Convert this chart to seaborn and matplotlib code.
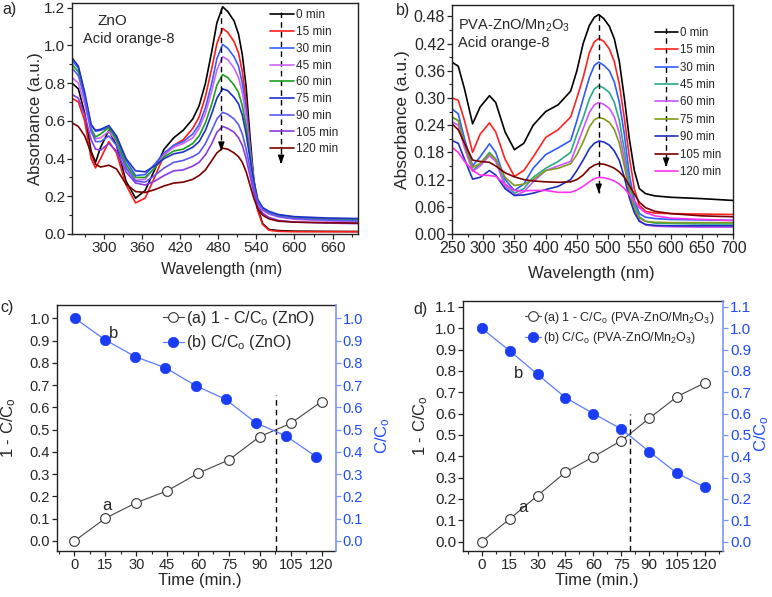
import seaborn as sns
import matplotlib.pyplot as plt
from matplotlib.ticker import MultipleLocator, FormatStrFormatter

sns.set_style('ticks')
plt.rcParams['font.family'] = ['Liberation Sans', 'DejaVu Sans']
plt.rcParams['mathtext.fontset'] = 'custom'
plt.rcParams['mathtext.rm'] = 'Liberation Sans'
plt.rcParams['mathtext.it'] = 'Liberation Sans:italic'
plt.rcParams['mathtext.default'] = 'regular'
plt.rcParams['axes.linewidth'] = 1.0
plt.rcParams['axes.edgecolor'] = '#222222'

# ---------------- data ----------------
labels_t = ['0 min', '15 min', '30 min', '45 min', '60 min', '75 min', '90 min', '105 min', '120 min']

# a) ZnO, Acid orange-8
wl_a = [250, 260, 270, 280, 287, 295, 308, 320, 335, 350, 365, 380, 395, 410, 425, 440, 450, 460, 470,
        478, 487, 495, 505, 512, 518, 524, 530, 536, 542, 550, 560, 575, 600, 650, 700]
zno_0 = [0.80, 0.77, 0.64, 0.44, 0.38, 0.46, 0.55, 0.47, 0.28, 0.19, 0.23, 0.34, 0.45, 0.51, 0.55, 0.61, 0.68, 0.80, 0.97,
         1.12, 1.205, 1.18, 1.13, 1.06, 0.95, 0.78, 0.52, 0.29, 0.14, 0.055, 0.024, 0.018, 0.015, 0.014, 0.013]
zno_15 = [0.72, 0.70, 0.60, 0.40, 0.35, 0.40, 0.49, 0.43, 0.26, 0.165, 0.19, 0.30, 0.42, 0.47, 0.50, 0.56, 0.62, 0.73, 0.88,
          1.01, 1.09, 1.07, 1.02, 0.96, 0.86, 0.70, 0.47, 0.26, 0.125, 0.05, 0.02, 0.014, 0.012, 0.012, 0.012]
zno_30 = [0.92, 0.88, 0.74, 0.58, 0.545, 0.55, 0.565, 0.51, 0.39, 0.31, 0.315, 0.37, 0.43, 0.47, 0.49, 0.53, 0.58, 0.67, 0.80,
          0.93, 1.005, 0.985, 0.94, 0.89, 0.80, 0.66, 0.46, 0.29, 0.18, 0.135, 0.115, 0.10, 0.088, 0.078, 0.072]
zno_45 = [0.83, 0.80, 0.69, 0.54, 0.505, 0.51, 0.545, 0.49, 0.36, 0.285, 0.29, 0.35, 0.42, 0.46, 0.48, 0.51, 0.56, 0.64, 0.76,
          0.87, 0.94, 0.925, 0.88, 0.83, 0.75, 0.62, 0.44, 0.28, 0.17, 0.125, 0.105, 0.09, 0.078, 0.07, 0.065]
zno_60 = [0.90, 0.86, 0.73, 0.56, 0.515, 0.53, 0.565, 0.50, 0.37, 0.30, 0.30, 0.35, 0.41, 0.44, 0.45, 0.48, 0.52, 0.59, 0.69,
          0.79, 0.845, 0.83, 0.79, 0.75, 0.68, 0.57, 0.42, 0.28, 0.18, 0.135, 0.115, 0.098, 0.087, 0.08, 0.076]
zno_75 = [0.935, 0.89, 0.75, 0.58, 0.55, 0.555, 0.575, 0.52, 0.40, 0.335, 0.33, 0.36, 0.40, 0.425, 0.435, 0.46, 0.49, 0.55, 0.64,
          0.72, 0.77, 0.76, 0.725, 0.69, 0.63, 0.53, 0.40, 0.28, 0.185, 0.14, 0.12, 0.103, 0.092, 0.085, 0.082]
zno_90 = [0.88, 0.84, 0.72, 0.55, 0.49, 0.49, 0.52, 0.47, 0.35, 0.28, 0.275, 0.31, 0.35, 0.38, 0.39, 0.41, 0.43, 0.48, 0.55,
          0.61, 0.645, 0.635, 0.61, 0.58, 0.53, 0.45, 0.35, 0.25, 0.17, 0.13, 0.11, 0.093, 0.082, 0.074, 0.07]
zno_105 = [0.74, 0.72, 0.63, 0.50, 0.45, 0.445, 0.48, 0.44, 0.33, 0.27, 0.26, 0.28, 0.31, 0.335, 0.34, 0.36, 0.38, 0.42, 0.48,
           0.54, 0.57, 0.56, 0.54, 0.51, 0.47, 0.40, 0.31, 0.22, 0.15, 0.11, 0.088, 0.072, 0.063, 0.058, 0.055]
zno_120 = [0.59, 0.57, 0.52, 0.43, 0.37, 0.355, 0.365, 0.345, 0.265, 0.225, 0.22, 0.235, 0.255, 0.27, 0.275, 0.29, 0.31, 0.34, 0.39,
           0.43, 0.455, 0.45, 0.43, 0.41, 0.38, 0.33, 0.26, 0.19, 0.135, 0.10, 0.08, 0.068, 0.063, 0.06, 0.058]
colors_a = ['#000000', '#ff1a1a', '#3a5cff', '#cc66ff', '#1e9e1e', '#1f2fcc', '#5a5af0', '#8a3ae0', '#7a0000']

# b) PVA-ZnO/Mn2O3, Acid orange-8
wl_b = [250, 260, 270, 283, 295, 310, 320, 335, 350, 365, 380, 400, 420, 440, 450, 460, 470, 478, 485,
        493, 502, 510, 518, 526, 534, 542, 550, 560, 575, 600, 650, 700]
pva_0 = [0.379, 0.37, 0.32, 0.243, 0.28, 0.305, 0.29, 0.225, 0.186, 0.20, 0.24, 0.27, 0.285, 0.315, 0.36, 0.42, 0.46, 0.478, 0.484,
         0.475, 0.458, 0.43, 0.38, 0.30, 0.21, 0.14, 0.10, 0.089, 0.084, 0.081, 0.078, 0.074]
pva_15 = [0.30, 0.295, 0.25, 0.18, 0.22, 0.245, 0.225, 0.165, 0.127, 0.14, 0.17, 0.213, 0.23, 0.258, 0.30, 0.345, 0.40, 0.424, 0.431,
          0.425, 0.408, 0.38, 0.33, 0.255, 0.17, 0.10, 0.063, 0.05, 0.046, 0.045, 0.044, 0.043]
pva_30 = [0.276, 0.265, 0.21, 0.15, 0.17, 0.199, 0.18, 0.12, 0.096, 0.11, 0.145, 0.175, 0.19, 0.206, 0.25, 0.298, 0.345, 0.372, 0.379,
          0.372, 0.36, 0.335, 0.29, 0.22, 0.13, 0.075, 0.045, 0.037, 0.034, 0.032, 0.031, 0.03]
pva_45 = [0.258, 0.25, 0.195, 0.14, 0.155, 0.18, 0.165, 0.11, 0.09, 0.10, 0.125, 0.145, 0.16, 0.18, 0.22, 0.256, 0.298, 0.32, 0.327,
          0.322, 0.312, 0.29, 0.25, 0.185, 0.11, 0.065, 0.038, 0.028, 0.024, 0.023, 0.022, 0.022]
pva_60 = [0.247, 0.24, 0.19, 0.138, 0.15, 0.173, 0.16, 0.105, 0.085, 0.093, 0.115, 0.14, 0.15, 0.16, 0.195, 0.232, 0.268, 0.285, 0.29,
          0.286, 0.277, 0.258, 0.222, 0.165, 0.095, 0.055, 0.03, 0.02, 0.017, 0.016, 0.015, 0.015]
pva_75 = [0.258, 0.25, 0.20, 0.147, 0.155, 0.177, 0.165, 0.125, 0.107, 0.11, 0.12, 0.14, 0.145, 0.155, 0.175, 0.203, 0.236, 0.252, 0.257,
          0.254, 0.246, 0.23, 0.20, 0.15, 0.095, 0.055, 0.035, 0.028, 0.026, 0.025, 0.025, 0.025]
pva_90 = [0.206, 0.20, 0.165, 0.121, 0.125, 0.14, 0.13, 0.10, 0.085, 0.086, 0.09, 0.098, 0.105, 0.12, 0.14, 0.163, 0.188, 0.20, 0.205,
          0.203, 0.196, 0.183, 0.162, 0.125, 0.08, 0.047, 0.028, 0.021, 0.019, 0.018, 0.018, 0.018]
pva_105 = [0.243, 0.23, 0.20, 0.163, 0.16, 0.158, 0.15, 0.135, 0.126, 0.12, 0.117, 0.115, 0.114, 0.115, 0.12, 0.13, 0.145, 0.152, 0.155,
           0.154, 0.15, 0.145, 0.137, 0.125, 0.107, 0.088, 0.07, 0.058, 0.05, 0.045, 0.04, 0.038]
pva_120 = [0.191, 0.18, 0.16, 0.14, 0.13, 0.129, 0.127, 0.11, 0.096, 0.095, 0.096, 0.096, 0.092, 0.092, 0.097, 0.105, 0.115, 0.122, 0.125,
           0.124, 0.121, 0.117, 0.11, 0.10, 0.087, 0.073, 0.058, 0.047, 0.04, 0.035, 0.032, 0.03]
colors_b = ['#000000', '#ff2222', '#2f5bff', '#2aa88a', '#cc55ff', '#7f9a1a', '#1f2fbf', '#7a0000', '#ff33ee']

peak_a = 485
peak_b = 485

# c), d) kinetics
time_min = [0, 15, 30, 45, 60, 75, 90, 105, 120]
deg_zno = [0.0, 0.102, 0.172, 0.225, 0.304, 0.364, 0.469, 0.528, 0.626]
cc0_zno = [1.0, 0.903, 0.828, 0.778, 0.698, 0.636, 0.531, 0.472, 0.379]
deg_pva = [0.0, 0.106, 0.216, 0.325, 0.398, 0.473, 0.578, 0.68, 0.745]
cc0_pva = [1.0, 0.895, 0.784, 0.675, 0.60, 0.528, 0.422, 0.32, 0.255]
t_half_zno = 98
t_half_pva = 79.5

# ---------------- figure ----------------
W, H = 772, 597
fig = plt.figure(figsize=(W / 100, H / 100), dpi=100)


def box(l, t, r, b):
    return [l / W, 1 - b / H, (r - l) / W, (b - t) / H]


def style_ticks(ax, size):
    ax.tick_params(which='major', direction='out', length=3.5, width=0.9, labelsize=size, pad=1.5, color='#222222')
    ax.tick_params(which='minor', direction='out', length=2, width=0.8, color='#222222')


def spectra(ax, wl, series, colors, peak, ytop, yend, leg_x, leg_y, leg_fs, leg_sp, arr_x, arr_y0, arr_y1):
    for vals, col, lab in zip(series, colors, labels_t):
        sns.lineplot(x=wl, y=vals, color=col, lw=1.2, ax=ax, label=lab)
    ax.legend(loc='upper left', bbox_to_anchor=(leg_x, leg_y), frameon=False, fontsize=leg_fs,
              handlelength=2.0, handletextpad=0.2, labelspacing=leg_sp, borderpad=0, borderaxespad=0)
    # dashed arrow at the band maximum
    ax.plot([peak, peak], [ytop, yend], color='k', ls=(0, (4, 3)), lw=1)
    ax.annotate('', xy=(peak, yend - 0.012 * ax.get_ylim()[1]), xytext=(peak, yend + 0.02 * ax.get_ylim()[1]),
                arrowprops=dict(arrowstyle='-|>,head_length=0.5,head_width=0.18', color='k', lw=1))
    # dashed arrow through the legend
    ax.plot([arr_x, arr_x], [arr_y0, arr_y1], color='k', ls=(0, (4, 3)), lw=1, transform=ax.transAxes)
    ax.annotate('', xy=(arr_x, arr_y1 - 0.02), xytext=(arr_x, arr_y1 + 0.02), xycoords='axes fraction',
                arrowprops=dict(arrowstyle='-|>,head_length=0.5,head_width=0.18', color='k', lw=1))


# ---- a)
ax_a = fig.add_axes(box(72, 3, 358, 234))
ax_a.set_xlim(250, 700)
ax_a.set_ylim(0, 1.225)
spectra(ax_a, wl_a, [zno_0, zno_15, zno_30, zno_45, zno_60, zno_75, zno_90, zno_105, zno_120], colors_a,
        peak_a, 1.2, 0.44, 0.692, 0.972, 8.5, 0.4, 0.731, 0.961, 0.31)
ax_a.xaxis.set_major_locator(MultipleLocator(60))
ax_a.xaxis.set_minor_locator(MultipleLocator(30))
ax_a.yaxis.set_major_locator(MultipleLocator(0.2))
ax_a.yaxis.set_minor_locator(MultipleLocator(0.1))
ax_a.yaxis.set_major_formatter(FormatStrFormatter('%.1f'))
style_ticks(ax_a, 11)
ax_a.set_xlabel('Wavelength (nm)', fontsize=11.5)
ax_a.set_ylabel('Absorbance (a.u.)', fontsize=12)
ax_a.xaxis.set_label_coords(0.523, -0.12)
ax_a.yaxis.set_label_coords(-0.10, 0.5)
ax_a.text(0.14, 0.922, 'ZnO', transform=ax_a.transAxes, ha='center', va='center', fontsize=11)
ax_a.text(0.038, 0.842, 'Acid orange-8', transform=ax_a.transAxes, ha='left', va='center', fontsize=10.5)

# ---- b)
ax_b = fig.add_axes(box(452, 5, 733, 234))
ax_b.set_xlim(250, 700)
ax_b.set_ylim(0, 0.505)
spectra(ax_b, wl_b, [pva_0, pva_15, pva_30, pva_45, pva_60, pva_75, pva_90, pva_105, pva_120], colors_b,
        peak_b, 0.482, 0.09, 0.722, 0.905, 8.3, 0.47, 0.762, 0.90, 0.30)
ax_b.xaxis.set_major_locator(MultipleLocator(50))
ax_b.xaxis.set_minor_locator(MultipleLocator(25))
ax_b.yaxis.set_major_locator(MultipleLocator(0.06))
ax_b.yaxis.set_minor_locator(MultipleLocator(0.03))
ax_b.yaxis.set_major_formatter(FormatStrFormatter('%.2f'))
style_ticks(ax_b, 11.5)
ax_b.set_xlabel('Wavelength (nm)', fontsize=12)
ax_b.set_ylabel('Absorbance (a.u.)', fontsize=12.5)
ax_b.xaxis.set_label_coords(0.497, -0.14)
ax_b.yaxis.set_label_coords(-0.15, 0.5)
ax_b.text(0.021, 0.913, 'PVA-ZnO/Mn$_2$O$_3$', transform=ax_b.transAxes, ha='left', va='center', fontsize=10.5)
ax_b.text(0.021, 0.832, 'Acid orange-8', transform=ax_b.transAxes, ha='left', va='center', fontsize=10.5)

# ---- c), d)
blue_tick = '#1f4bff'
blue_spine = '#7a93ff'
blue_mark = '#1a3cf5'
blue_line = '#5b7bff'


def kinetics(rect, deg, cc0, xlim1, xlim2, ylim, ytop, t_half, t_top, name, leg_x, leg_y, leg_fs,
             a_xy, b_xy, fs_tick, lab_l, lab_r, lab_x):
    ax = fig.add_axes(rect)
    ax2 = fig.add_axes(rect)
    ax2.set_facecolor('none')
    sns.lineplot(x=time_min, y=deg, ax=ax, color='#444444', lw=0.8, marker='o', markersize=7,
                 markerfacecolor='white', markeredgecolor='#333333', markeredgewidth=0.8,
                 label='(a) 1 - C/C$_o$ (' + name + ')')
    sns.scatterplot(x=time_min, y=deg, ax=ax, s=2, color='#333333', linewidth=0, legend=False)
    sns.lineplot(x=time_min, y=cc0, ax=ax2, color=blue_line, lw=0.9, marker='o', markersize=7.5,
                 markerfacecolor=blue_mark, markeredgecolor=blue_mark, markeredgewidth=0.5,
                 label='(b) C/C$_o$ (' + name + ')')
    ax.vlines(t_half, ylim[0], t_top, colors='k', linestyles=(0, (4, 3)), lw=1)
    ax.set_xlim(*xlim1)
    ax2.set_xlim(*xlim2)
    ax.xaxis.set_major_locator(MultipleLocator(15))
    ax.xaxis.set_minor_locator(MultipleLocator(7.5))
    ticks = [v / 10 for v in range(int(round(ytop * 10)) + 1)]
    ax.set_yticks(ticks)
    ax2.set_yticks(ticks)
    ax.yaxis.set_major_formatter(FormatStrFormatter('%.1f'))
    ax2.yaxis.set_major_formatter(FormatStrFormatter('%.1f'))
    ax.set_ylim(*ylim)
    ax2.set_ylim(*ylim)
    style_ticks(ax, fs_tick)
    ax.spines['right'].set_visible(False)
    ax2.xaxis.set_visible(False)
    for s in ['left', 'top', 'bottom']:
        ax2.spines[s].set_visible(False)
    ax2.spines['right'].set_color(blue_spine)
    ax2.spines['right'].set_linewidth(1.2)
    ax2.yaxis.tick_right()
    ax2.yaxis.set_label_position('right')
    ax2.tick_params(axis='y', direction='out', length=3.5, width=0.9, labelsize=fs_tick, pad=1.5,
                    colors=blue_tick, color=blue_spine)
    ax.set_xlabel('Time (min.)', fontsize=12)
    ax.set_ylabel('1 - C/C$_o$', fontsize=12)
    ax2.set_ylabel('C/C$_o$', fontsize=12, color=blue_tick)
    ax.xaxis.set_label_coords(lab_x, -0.09)
    ax.yaxis.set_label_coords(lab_l, 0.5)
    ax2.yaxis.set_label_coords(lab_r, 0.47)
    h1 = ax.get_lines()[0]
    h2 = ax2.get_lines()[0]
    if ax.get_legend():
        ax.get_legend().remove()
    ax2.legend([h1, h2], [h1.get_label(), h2.get_label()], loc='upper left', bbox_to_anchor=(leg_x, leg_y),
               frameon=False, fontsize=leg_fs, handlelength=1.3, handletextpad=0.15, labelspacing=0.35,
               borderpad=0, borderaxespad=0)
    ax.text(a_xy[0], a_xy[1], 'a', fontsize=12, ha='center', va='center')
    ax.text(b_xy[0], b_xy[1], 'b', fontsize=12, ha='center', va='center')
    return ax, ax2


kinetics(box(57, 305, 335.5, 551), deg_zno, cc0_zno, (-8.5, 126.8), (-9.0, 129.7), (-0.045, 1.06), 1.0,
         t_half_zno, 0.655, 'ZnO', 0.381, 0.985, 11.5, (16, 0.16), (19, 0.93), 10.5, -0.14, 1.135, 0.513)
kinetics(box(463.3, 301, 723.3, 551), deg_pva, cc0_pva, (-9.9, 129.8), (-9.9, 129.8), (-0.044, 1.128), 1.1,
         t_half_pva, 0.60, 'PVA-ZnO/Mn$_2$O$_3$', 0.237, 0.965, 9, (22, 0.16), (20, 0.79), 11, -0.13, 1.11, 0.514)

# panel letters
fig.text(2 / W, 1 - 2 / H, 'a)', fontsize=11.5, ha='left', va='top')
fig.text(396 / W, 1 - 3 / H, 'b)', fontsize=11.5, ha='left', va='top')
fig.text(0 / W, 1 - 300 / H, 'c)', fontsize=11.5, ha='left', va='top')
fig.text(413 / W, 1 - 302 / H, 'd)', fontsize=11.5, ha='left', va='top')

fig.savefig('out.png', dpi=100)
